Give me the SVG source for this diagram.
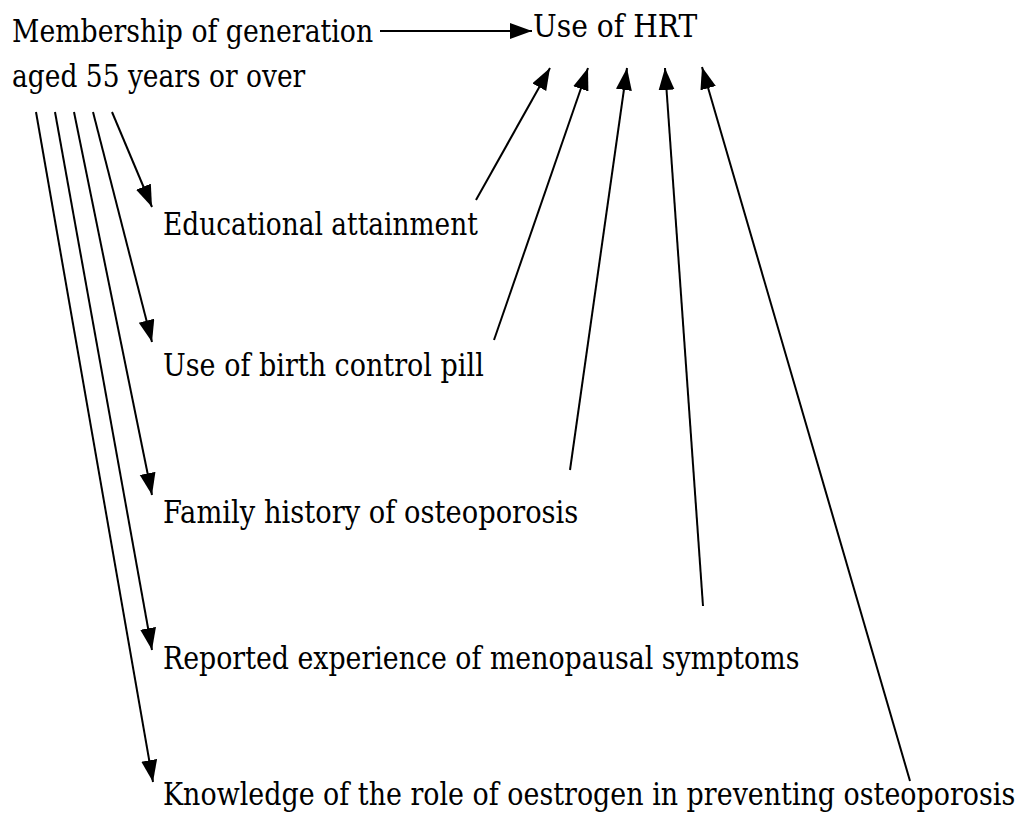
<svg xmlns="http://www.w3.org/2000/svg" width="1031" height="818" viewBox="0 0 1031 818">
<style>
text{font-family:'DejaVu Serif','Liberation Serif',serif;font-size:31px;fill:#000}
.c{stroke:#000;stroke-width:2;fill:none;marker-end:url(#ah)}
</style>
<defs>
<marker id="ah" markerUnits="userSpaceOnUse" markerWidth="24" markerHeight="18" refX="22" refY="8" orient="auto" viewBox="0 0 24 18">
<path d="M0,0 L22,8 L0,16 z" fill="#000"/>
</marker>
</defs>
<rect width="1031" height="818" fill="#fff"/>
<g id="connectors">
<line class="c" x1="380" y1="31" x2="532" y2="31"/>
<line class="c" x1="112" y1="112" x2="152" y2="207"/>
<line class="c" x1="93" y1="112" x2="152" y2="342"/>
<line class="c" x1="74" y1="112" x2="152" y2="495"/>
<line class="c" x1="55" y1="112" x2="152" y2="650"/>
<line class="c" x1="36" y1="112" x2="153" y2="782"/>
<line class="c" x1="476" y1="200" x2="550" y2="68"/>
<line class="c" x1="494" y1="340" x2="588" y2="68"/>
<line class="c" x1="570" y1="470" x2="627" y2="68"/>
<line class="c" x1="703" y1="606" x2="665" y2="68"/>
<line class="c" x1="910" y1="781" x2="702" y2="67"/>
</g>
<g id="membership">
<text transform="translate(12,42) scale(0.86,1)" textLength="420" lengthAdjust="spacingAndGlyphs">Membership of generation</text>
<text transform="translate(12,87) scale(0.86,1)" textLength="341" lengthAdjust="spacingAndGlyphs">aged 55 years or over</text>
</g>
<g id="hrt"><text transform="translate(533,37) scale(0.86,1)" textLength="191" lengthAdjust="spacingAndGlyphs">Use of HRT</text></g>
<g id="education"><text transform="translate(163,235) scale(0.86,1)" textLength="366" lengthAdjust="spacingAndGlyphs">Educational attainment</text></g>
<g id="pill"><text transform="translate(163,376) scale(0.86,1)" textLength="373" lengthAdjust="spacingAndGlyphs">Use of birth control pill</text></g>
<g id="family"><text transform="translate(163,523) scale(0.86,1)" textLength="483" lengthAdjust="spacingAndGlyphs">Family history of osteoporosis</text></g>
<g id="menopause"><text transform="translate(163,669) scale(0.86,1)" textLength="740" lengthAdjust="spacingAndGlyphs">Reported experience of menopausal symptoms</text></g>
<g id="knowledge"><text transform="translate(163,805) scale(0.86,1)" textLength="991" lengthAdjust="spacingAndGlyphs">Knowledge of the role of oestrogen in preventing osteoporosis</text></g>
</svg>
